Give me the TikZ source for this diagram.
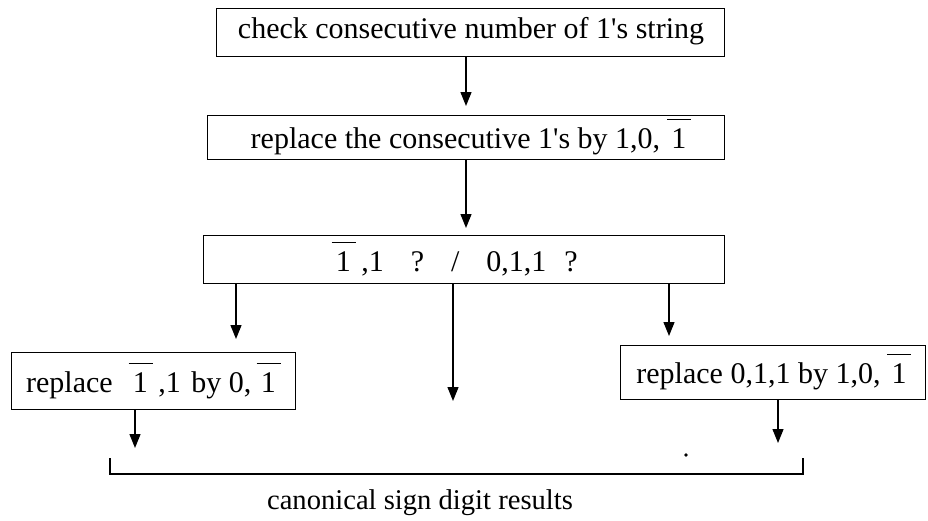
\documentclass[tikz,border=0pt]{standalone}
\usepackage{fontspec}
\setmainfont{Liberation Serif}
\usetikzlibrary{arrows.meta}
\newcommand{\nb}{\leavevmode\hbox{\kern0.12em\rlap{\kern-0.14em\raisebox{0.95em}{\rule{0.8em}{0.045em}}}1\kern0.1em}}
\newcommand{\qs}{\textquotesingle}
\begin{document}
\begin{tikzpicture}[x=1pt,y=-1pt,
  box/.style={draw,line width=1.3pt,inner sep=0pt,anchor=north west},
  lbl/.style={inner sep=0pt,font=\fontsize{30}{35}\selectfont},
  arr/.style={line width=1.3pt,-{Triangle[width=11pt,length=14pt]}},
  ln/.style={line width=1.3pt}]
\useasboundingbox (0,0) rectangle (928,520);
% boxes
\node[box,minimum width=508pt,minimum height=48pt] (b1) at (216,8) {};
\node[lbl] (t1) at (471,31) {check consecutive number of 1\qs s string};
\node[box,minimum width=517pt,minimum height=44pt] (b2) at (207,115) {};
\node[lbl] (t2) at (470,137) {replace the consecutive 1\qs s by 1,0, \nb};
\node[box,minimum width=521pt,minimum height=48pt] (b3) at (203,235) {};
\node[lbl] (t3) at (455,259) {\nb\ ,1\hspace{0.9em}?\hspace{0.9em}/\hspace{0.9em}0,1,1\hspace{0.6em}?};
\node[box,minimum width=284pt,minimum height=57pt] (b4) at (11,352) {};
\node[lbl] (t4) at (152.5,381) {replace\hspace{0.55em}\nb\ ,1\hspace{0.35em}by 0,\kern0.2em\nb};
\node[box,minimum width=305pt,minimum height=54pt] (b5) at (620,345) {};
\node[lbl] (t5) at (773,372) {replace 0,1,1 by 1,0, \nb};
\node[lbl,font=\fontsize{28.6}{34}\selectfont] (t6) at (420,503) {canonical sign digit results};
% arrow end points
\coordinate (e1) at (466,106);
\coordinate (e2) at (466,228);
\coordinate (s3l) at (236,283);
\coordinate (e3l) at (236,339);
\coordinate (s3m) at (453,283);
\coordinate (e3m) at (453,401);
\coordinate (s3r) at (669,283);
\coordinate (e3r) at (669,336);
\coordinate (s4) at (135,409);
\coordinate (e4) at (135,448);
\coordinate (s5) at (778,399);
\coordinate (e5) at (778,443);
\coordinate (bl) at (110,458);
\coordinate (br) at (803,458);
\coordinate (dot) at (686,455);
% connectors
\draw[arr] (b1.south -| e1) -- (e1);
\draw[arr] (b2.south -| e2) -- (e2);
\draw[arr] (s3l) -- (e3l);
\draw[arr] (s3m) -- (e3m);
\draw[arr] (s3r) -- (e3r);
\draw[arr] (s4) -- (e4);
\draw[arr] (s5) -- (e5);
\draw[ln] (bl) -- ++(0,16) -| (br);
\fill (dot) circle (1.8pt);
\end{tikzpicture}
\end{document}
